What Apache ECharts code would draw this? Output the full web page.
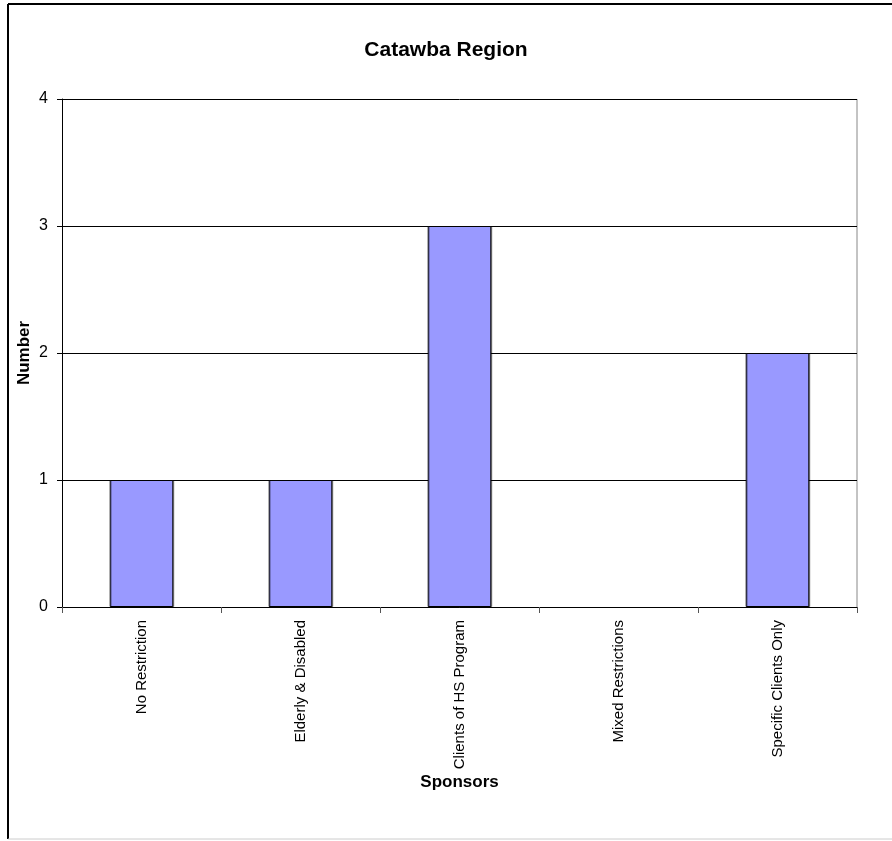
<!DOCTYPE html>
<html>
<head>
<meta charset="utf-8">
<script src="https://cdn.jsdelivr.net/npm/echarts@6/dist/echarts.min.js"></script>
<style>
  html, body { margin: 0; padding: 0; background: #fff; }
  #chart { width: 892px; height: 841px; }
</style>
</head>
<body>
<div id="chart"></div>
<script>
// Sponsors by restriction type, Catawba Region
const categories = ['No Restriction', 'Elderly & Disabled', 'Clients of HS Program', 'Mixed Restrictions', 'Specific Clients Only'];
const counts = [1, 1, 3, 0, 2];
const yTicks = { min: 0, max: 4, interval: 1 };

const chart = echarts.init(document.getElementById('chart'), null, { renderer: 'canvas' });
const font = '"Liberation Sans", Arial, sans-serif';

// empty categories get no outline so nothing shows on the baseline
const barData = counts.map(v => (v === 0 ? { value: v, itemStyle: { borderWidth: 0, shadowOffsetX: 0 } } : v));

chart.setOption({
  animation: false,
  backgroundColor: '#fff',
  title: {
    text: 'Catawba Region',
    left: 'center',
    top: 35,
    textStyle: { fontFamily: font, fontSize: 21, fontWeight: 'bold', color: '#000' }
  },
  grid: { left: 62, right: 35, top: 99, bottom: 234, containLabel: false },
  xAxis: {
    type: 'category',
    data: categories,
    name: 'Sponsors',
    nameLocation: 'middle',
    nameGap: 167,
    nameMoveOverlap: false,
    nameTextStyle: { fontFamily: font, fontSize: 17, fontWeight: 'bold', color: '#000' },
    axisLine: { lineStyle: { color: '#000', width: 1 } },
    axisTick: { show: true, alignWithLabel: false, length: 6, lineStyle: { color: '#555' } },
    axisLabel: { rotate: 90, margin: 13, fontFamily: font, fontSize: 15, color: '#000', interval: 0 }
  },
  yAxis: {
    type: 'value',
    min: yTicks.min,
    max: yTicks.max,
    interval: yTicks.interval,
    name: 'Number',
    nameLocation: 'middle',
    nameGap: 29,
    nameRotate: 90,
    nameMoveOverlap: false,
    nameTextStyle: { fontFamily: font, fontSize: 17, fontWeight: 'bold', color: '#000' },
    axisLine: { show: true, lineStyle: { color: '#000', width: 1 } },
    axisTick: { show: true, length: 5, lineStyle: { color: '#000' } },
    axisLabel: { margin: 14, fontFamily: font, fontSize: 16, color: '#000' },
    splitLine: { show: true, lineStyle: { color: '#000', width: 1 } }
  },
  series: [{
    type: 'bar',
    data: barData,
    barWidth: '40%',
    itemStyle: {
      color: '#9999FF',
      borderColor: '#000',
      borderWidth: 1,
      shadowColor: 'rgba(0,0,0,0.35)',
      shadowBlur: 0,
      shadowOffsetX: 1,
      shadowOffsetY: 0
    },
    z: 3
  }],
  graphic: [
    { type: 'line', shape: { x1: 8, y1: 4, x2: 8, y2: 839 }, style: { stroke: '#000', lineWidth: 2 } },
    { type: 'line', shape: { x1: 8, y1: 4, x2: 892, y2: 4 }, style: { stroke: '#000', lineWidth: 2 } },
    { type: 'line', shape: { x1: 8, y1: 839, x2: 892, y2: 839 }, style: { stroke: '#ccc', lineWidth: 1 } },
    { type: 'line', shape: { x1: 857, y1: 99, x2: 857, y2: 607 }, style: { stroke: '#888', lineWidth: 1 } }
  ]
});
</script>
</body>
</html>
